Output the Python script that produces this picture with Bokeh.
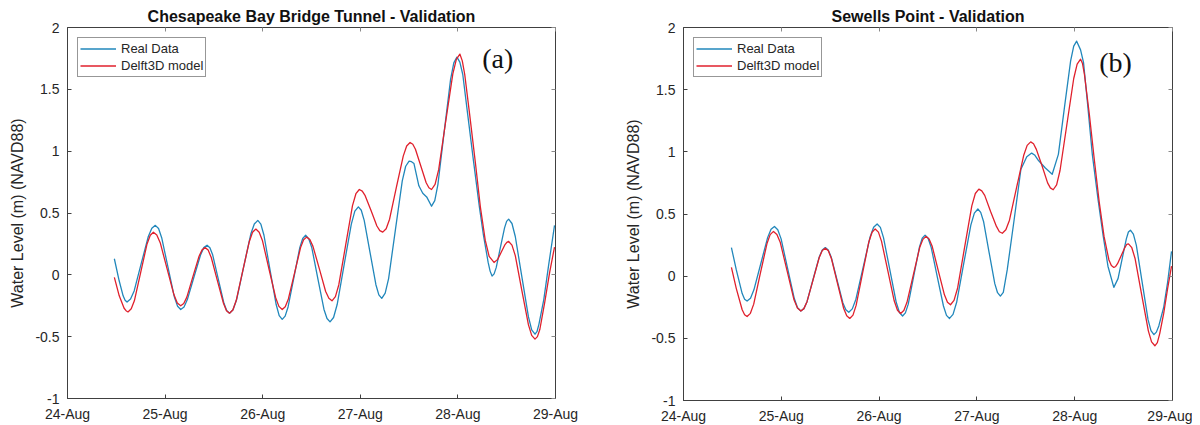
from bokeh.plotting import figure
from bokeh.layouts import row
from bokeh.models import Range1d, FixedTicker, Label, Legend, LegendItem, LinearAxis
from bokeh.embed import file_html
from bokeh.resources import INLINE

# ---------------- data ----------------
x_ticks = [24, 25, 26, 27, 28, 29]
x_tick_labels = ["24-Aug", "25-Aug", "26-Aug", "27-Aug", "28-Aug", "29-Aug"]
y_ticks = [-1, -0.5, 0, 0.5, 1, 1.5, 2]
y_tick_labels = ["-1", "-0.5", "0", "0.5", "1", "1.5", "2"]

series_names = ["Real Data", "Delft3D model"]
panel_titles = ["Chesapeake Bay Bridge Tunnel - Validation", "Sewells Point - Validation"]
panel_tags = ["(a)", "(b)"]

# Chesapeake Bay Bridge Tunnel (day of August, water level m)
cbbt_real_t = [24.48, 24.53, 24.57, 24.59, 24.61, 24.646, 24.683, 24.755, 24.828, 24.864,
               24.90, 24.933, 24.965, 25.03, 25.095, 25.128, 25.16, 25.194, 25.228, 25.295,
               25.363, 25.396, 25.43, 25.459, 25.488, 25.545, 25.603, 25.631, 25.66, 25.696,
               25.733, 25.805, 25.878, 25.914, 25.95, 25.981, 26.013, 26.075, 26.138, 26.169,
               26.20, 26.23, 26.26, 26.32, 26.38, 26.41, 26.44, 26.471, 26.503, 26.565,
               26.628, 26.659, 26.69, 26.726, 26.763, 26.835, 26.908, 26.944, 26.98, 27.01,
               27.04, 27.10, 27.16, 27.19, 27.22, 27.255, 27.29, 27.36, 27.43, 27.465,
               27.50, 27.525, 27.55, 27.60, 27.64, 27.68, 27.73, 27.763, 27.795, 27.86,
               27.925, 27.958, 27.99, 28.02, 28.05, 28.10, 28.16, 28.22, 28.26, 28.31,
               28.33, 28.35, 28.371, 28.393, 28.435, 28.478, 28.499, 28.52, 28.554, 28.588,
               28.655, 28.723, 28.756, 28.79, 28.81, 28.83, 28.88, 28.93, 28.99]
cbbt_real_v = [0.13, -0.05, -0.17, -0.205, -0.22, -0.196, -0.13, 0.09, 0.31, 0.376,
               0.40, 0.374, 0.30, 0.06, -0.18, -0.254, -0.28, -0.26, -0.20, -0.02,
               0.16, 0.22, 0.24, 0.219, 0.16, -0.035, -0.23, -0.289, -0.31, -0.282,
               -0.20, 0.065, 0.33, 0.411, 0.44, 0.41, 0.32, 0.04, -0.24, -0.33,
               -0.36, -0.334, -0.26, -0.02, 0.22, 0.294, 0.32, 0.293, 0.22, -0.03,
               -0.28, -0.353, -0.38, -0.345, -0.24, 0.085, 0.41, 0.515, 0.55, 0.522,
               0.44, 0.18, -0.08, -0.162, -0.19, -0.148, -0.03, 0.365, 0.76, 0.878,
               0.92, 0.915, 0.90, 0.72, 0.66, 0.63, 0.555, 0.60, 0.73, 1.16,
               1.58, 1.714, 1.76, 1.72, 1.62, 1.30, 0.92, 0.55, 0.33, 0.10,
               0.03, -0.01, 0.008, 0.06, 0.22, 0.38, 0.432, 0.45, 0.415, 0.31,
               -0.015, -0.34, -0.445, -0.48, -0.46, -0.40, -0.20, 0.08, 0.40]
cbbt_model_t = [24.48, 24.53, 24.58, 24.60, 24.62, 24.653, 24.685, 24.75, 24.815, 24.848,
                24.88, 24.915, 24.95, 25.02, 25.09, 25.125, 25.16, 25.191, 25.223, 25.285,
                25.348, 25.379, 25.41, 25.441, 25.473, 25.535, 25.598, 25.629, 25.66, 25.694,
                25.728, 25.795, 25.863, 25.896, 25.93, 25.964, 25.998, 26.065, 26.133, 26.166,
                26.20, 26.231, 26.263, 26.325, 26.388, 26.419, 26.45, 26.483, 26.515, 26.58,
                26.645, 26.678, 26.71, 26.745, 26.78, 26.85, 26.92, 26.955, 26.99, 27.02,
                27.05, 27.11, 27.17, 27.20, 27.23, 27.265, 27.30, 27.37, 27.44, 27.475,
                27.51, 27.538, 27.565, 27.62, 27.675, 27.703, 27.73, 27.766, 27.803, 27.875,
                27.948, 27.984, 28.02, 28.045, 28.07, 28.12, 28.18, 28.23, 28.28, 28.32,
                28.37, 28.408, 28.445, 28.483, 28.501, 28.52, 28.554, 28.588, 28.655, 28.723,
                28.756, 28.79, 28.815, 28.84, 28.89, 28.94, 28.99]
cbbt_model_v = [-0.02, -0.17, -0.27, -0.29, -0.30, -0.275, -0.21, 0.02, 0.25, 0.32,
                0.345, 0.322, 0.26, 0.05, -0.16, -0.227, -0.25, -0.232, -0.18, -0.015,
                0.15, 0.202, 0.22, 0.20, 0.14, -0.045, -0.23, -0.29, -0.31, -0.284,
                -0.21, 0.03, 0.27, 0.344, 0.37, 0.345, 0.275, 0.045, -0.185, -0.255,
                -0.28, -0.258, -0.195, 0.01, 0.22, 0.283, 0.305, 0.285, 0.23, 0.05,
                -0.135, -0.19, -0.21, -0.176, -0.08, 0.24, 0.56, 0.656, 0.69, 0.677,
                0.64, 0.52, 0.395, 0.358, 0.345, 0.373, 0.45, 0.71, 0.96, 1.042,
                1.07, 1.056, 1.015, 0.88, 0.745, 0.704, 0.69, 0.732, 0.85, 1.24,
                1.625, 1.743, 1.785, 1.73, 1.62, 1.30, 0.90, 0.55, 0.28, 0.15,
                0.10, 0.125, 0.185, 0.245, 0.263, 0.27, 0.24, 0.155, -0.125, -0.405,
                -0.49, -0.52, -0.50, -0.44, -0.22, 0.02, 0.225]

# Sewells Point
sewp_real_t = [24.49, 24.54, 24.60, 24.625, 24.65, 24.685, 24.72, 24.79, 24.86, 24.895,
               24.93, 24.964, 24.998, 25.065, 25.133, 25.166, 25.20, 25.231, 25.263, 25.325,
               25.388, 25.419, 25.45, 25.48, 25.51, 25.57, 25.63, 25.66, 25.69, 25.726,
               25.763, 25.835, 25.908, 25.944, 25.98, 26.013, 26.045, 26.11, 26.175, 26.208,
               26.24, 26.269, 26.298, 26.355, 26.413, 26.441, 26.47, 26.501, 26.533, 26.595,
               26.658, 26.689, 26.72, 26.756, 26.793, 26.865, 26.938, 26.974, 27.01, 27.039,
               27.068, 27.125, 27.183, 27.211, 27.24, 27.27, 27.31, 27.38, 27.45, 27.51,
               27.56, 27.59, 27.63, 27.70, 27.77, 27.833, 27.895, 27.958, 27.99, 28.02,
               28.06, 28.09, 28.13, 28.18, 28.24, 28.29, 28.34, 28.40, 28.443, 28.485,
               28.528, 28.549, 28.57, 28.60, 28.63, 28.69, 28.75, 28.78, 28.81, 28.835,
               28.86, 28.91, 28.95, 28.99]
sewp_real_v = [0.23, 0.05, -0.14, -0.185, -0.20, -0.177, -0.11, 0.10, 0.31, 0.377,
               0.40, 0.374, 0.30, 0.06, -0.18, -0.254, -0.28, -0.261, -0.205, -0.025,
               0.155, 0.211, 0.23, 0.21, 0.155, -0.03, -0.215, -0.27, -0.29, -0.263,
               -0.185, 0.065, 0.315, 0.393, 0.42, 0.392, 0.31, 0.05, -0.21, -0.292,
               -0.32, -0.295, -0.225, 0.005, 0.235, 0.305, 0.33, 0.305, 0.23, -0.005,
               -0.24, -0.315, -0.34, -0.307, -0.21, 0.10, 0.41, 0.507, 0.54, 0.513,
               0.44, 0.19, -0.06, -0.133, -0.16, -0.13, 0.05, 0.45, 0.86, 0.96,
               0.99, 0.975, 0.93, 0.87, 0.82, 0.98, 1.355, 1.73, 1.85, 1.89,
               1.82, 1.72, 1.40, 0.98, 0.61, 0.33, 0.08, -0.09, -0.02, 0.14,
               0.30, 0.355, 0.37, 0.338, 0.25, -0.05, -0.35, -0.438, -0.47, -0.45,
               -0.40, -0.25, -0.05, 0.20]
sewp_model_t = [24.49, 24.54, 24.60, 24.625, 24.65, 24.684, 24.718, 24.785, 24.853, 24.886,
                24.92, 24.955, 24.99, 25.06, 25.13, 25.165, 25.20, 25.231, 25.263, 25.325,
                25.388, 25.419, 25.45, 25.481, 25.513, 25.575, 25.638, 25.669, 25.70, 25.733,
                25.765, 25.83, 25.895, 25.928, 25.96, 25.993, 26.025, 26.09, 26.155, 26.188,
                26.22, 26.253, 26.285, 26.35, 26.415, 26.448, 26.48, 26.511, 26.543, 26.605,
                26.668, 26.699, 26.73, 26.766, 26.803, 26.875, 26.948, 26.984, 27.02, 27.05,
                27.08, 27.14, 27.20, 27.23, 27.26, 27.296, 27.333, 27.405, 27.478, 27.514,
                27.55, 27.579, 27.608, 27.665, 27.723, 27.751, 27.78, 27.815, 27.85, 27.92,
                27.99, 28.025, 28.06, 28.08, 28.10, 28.15, 28.20, 28.25, 28.30, 28.35,
                28.375, 28.40, 28.419, 28.438, 28.475, 28.513, 28.531, 28.55, 28.584, 28.618,
                28.685, 28.753, 28.786, 28.82, 28.845, 28.87, 28.91, 28.95, 28.99]
sewp_model_v = [0.07, -0.10, -0.27, -0.31, -0.325, -0.299, -0.225, 0.02, 0.26, 0.334,
                0.36, 0.336, 0.27, 0.04, -0.19, -0.256, -0.28, -0.261, -0.205, -0.03,
                0.15, 0.206, 0.225, 0.204, 0.14, -0.06, -0.26, -0.319, -0.34, -0.313,
                -0.235, 0.02, 0.275, 0.353, 0.38, 0.354, 0.28, 0.04, -0.20, -0.274,
                -0.30, -0.276, -0.21, 0.01, 0.23, 0.296, 0.32, 0.299, 0.24, 0.045,
                -0.15, -0.209, -0.23, -0.195, -0.095, 0.235, 0.565, 0.665, 0.70, 0.686,
                0.65, 0.52, 0.40, 0.357, 0.345, 0.373, 0.45, 0.71, 0.97, 1.052,
                1.08, 1.065, 1.02, 0.89, 0.75, 0.71, 0.695, 0.735, 0.85, 1.22,
                1.59, 1.705, 1.745, 1.71, 1.62, 1.30, 0.94, 0.60, 0.32, 0.13,
                0.085, 0.07, 0.078, 0.10, 0.165, 0.23, 0.255, 0.26, 0.229, 0.14,
                -0.15, -0.44, -0.529, -0.56, -0.535, -0.46, -0.30, -0.10, 0.08]

# ---------------- styling ----------------
BLUE = "#2187bb"
RED = "#e0202c"
AXIS = "#404040"
TEXT = "#262626"
FONT = "Liberation Sans"


def mirror_axis(ticks):
    # tick marks only (MATLAB box style); labels are not drawn
    return LinearAxis(ticker=FixedTicker(ticks=ticks, minor_ticks=[]),
                      major_label_text_font_size="1px", major_label_text_color=None,
                      major_label_standoff=0, axis_line_color=None,
                      major_tick_line_color="#8a8a8a", major_tick_in=4, major_tick_out=0,
                      minor_tick_in=0, minor_tick_out=0)


def make_panel(title, tag, t_real, v_real, t_model, v_model, fw, fh, bl, br, tag_y):
    p = figure(frame_width=fw, frame_height=fh,
               x_range=Range1d(24, 29), y_range=Range1d(-1, 2),
               output_backend="svg", toolbar_location=None,
               min_border_left=bl, min_border_right=br,
               min_border_top=27, min_border_bottom=10,
               background_fill_color="white", border_fill_color="white")
    p.xgrid.visible = False
    p.ygrid.visible = False
    p.outline_line_color = AXIS
    p.outline_line_width = 1

    p.title.text = title
    p.title.align = "center"
    p.title.text_font = FONT
    p.title.text_font_size = "16px"
    p.title.text_font_style = "bold"
    p.title.text_color = "#111111"
    p.title.standoff = 6

    r_real = p.line(t_real, v_real, line_color=BLUE, line_width=1.3, line_join="round")
    r_model = p.line(t_model, v_model, line_color=RED, line_width=1.3, line_join="round")

    xa = p.xaxis[0]
    xa.ticker = FixedTicker(ticks=x_ticks, minor_ticks=[])
    xa.major_label_overrides = dict(zip(x_ticks, x_tick_labels))
    ya = p.yaxis[0]
    ya.ticker = FixedTicker(ticks=y_ticks, minor_ticks=[])
    ya.major_label_overrides = dict(zip(y_ticks, y_tick_labels))
    for ax in (xa, ya):
        ax.axis_line_color = AXIS
        ax.major_tick_line_color = AXIS
        ax.major_tick_in = 4
        ax.major_tick_out = 0
        ax.minor_tick_in = 0
        ax.minor_tick_out = 0
        ax.major_label_text_font = FONT
        ax.major_label_text_font_size = "14px"
        ax.major_label_text_color = TEXT
    xa.major_label_standoff = 7
    ya.major_label_standoff = 8
    ya.axis_label = "Water Level (m) (NAVD88)"
    ya.axis_label_text_font = FONT
    ya.axis_label_text_font_size = "16px"
    ya.axis_label_text_font_style = "normal"
    ya.axis_label_text_color = TEXT
    ya.axis_label_standoff = 6

    p.add_layout(mirror_axis(x_ticks), "above")
    p.add_layout(mirror_axis(y_ticks), "right")

    legend = Legend(items=[LegendItem(label=series_names[0], renderers=[r_real]),
                           LegendItem(label=series_names[1], renderers=[r_model])],
                    location="top_left", margin=10, padding=2, spacing=0,
                    label_height=17, glyph_height=17, glyph_width=36, label_standoff=5,
                    label_text_font=FONT, label_text_font_size="13px", label_text_color=TEXT,
                    border_line_color="#303030", border_line_width=1,
                    background_fill_color="white", background_fill_alpha=1)
    p.add_layout(legend)

    p.add_layout(Label(x=28.25, y=tag_y, text=tag, text_align="left", text_baseline="middle",
                       text_font="Liberation Serif", text_font_size="28px",
                       text_color="#111111"))
    return p


p1 = make_panel(panel_titles[0], panel_tags[0], cbbt_real_t, cbbt_real_v, cbbt_model_t, cbbt_model_v,
                488, 371, 67, 45, 1.75)
p2 = make_panel(panel_titles[1], panel_tags[1], sewp_real_t, sewp_real_v, sewp_model_t, sewp_model_v,
                489, 373, 83, 20, 1.72)

layout = row(p1, p2)
open("out.html", "w").write(file_html(layout, INLINE))
